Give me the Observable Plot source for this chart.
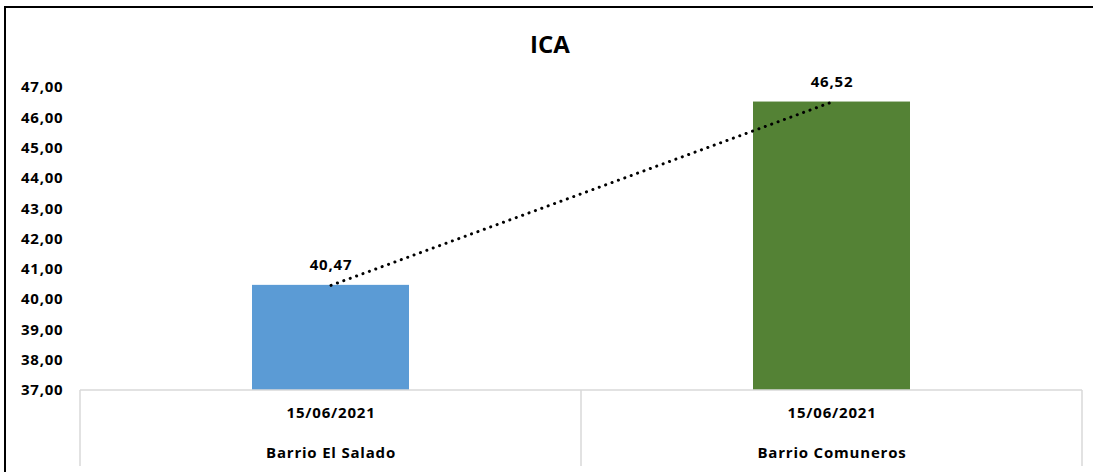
<!DOCTYPE html>
<html>
<head>
<meta charset="utf-8">
<script src="https://cdn.jsdelivr.net/npm/d3@7"></script>
<script src="https://cdn.jsdelivr.net/npm/@observablehq/plot@0.6"></script>
<style>
  html, body { margin: 0; padding: 0; background: #fff; }
  #wrap { position: relative; width: 1093px; height: 472px; overflow: hidden; font-family: "Open Sans", sans-serif; }
  #borderL { position: absolute; left: 4px; top: 6px; width: 2px; height: 480px; background: #000; }
  #borderT { position: absolute; left: 4px; top: 6px; width: 1100px; height: 2px; background: #000; }
  #title { position: absolute; left: 0; width: 1100px; top: 27px; text-align: center; font-weight: 700; font-size: 24px; color: #000; line-height: 34px; }
  #chart { position: absolute; left: 0; top: 0; }
  #chart svg text { letter-spacing: 0.8px; }
</style>
</head>
<body>
<div id="wrap">
  <div id="chart"></div>
  <div id="borderL"></div>
  <div id="borderT"></div>
  <div id="title">ICA</div>
</div>
<script>
const categories = ["Barrio El Salado", "Barrio Comuneros"];
const dates = ["15/06/2021", "15/06/2021"];
const values = [40.47, 46.52];
const colors = ["#5B9BD5", "#548235"];
const yTicks = [37, 38, 39, 40, 41, 42, 43, 44, 45, 46, 47];

const data = categories.map((c, i) => ({category: c, date: dates[i], value: values[i], color: colors[i]}));
const fmt = v => v.toFixed(2).replace(".", ",");

const chart = Plot.plot({
  width: 1093,
  height: 472,
  marginLeft: 80,
  marginRight: 11,
  marginTop: 87,
  marginBottom: 82,
  style: {fontFamily: "'Open Sans', sans-serif", fontWeight: 700, fontSize: "15px", color: "#000"},
  x: {domain: categories, padding: 0, axis: null},
  y: {domain: [37, 47], ticks: yTicks, tickFormat: fmt, label: null},
  marks: [
    Plot.axisY({ticks: yTicks, tickFormat: fmt, tickSize: 0, tickPadding: 17, fontSize: 15, fontWeight: 700, fill: "#000", label: null}),
    Plot.barY(data, {x: "category", y1: 37, y2: "value", fill: "color", insetLeft: 172, insetRight: 172}),
    Plot.line(data, {x: "category", y: "value", stroke: "#000", strokeWidth: 3, strokeLinecap: "round", strokeDasharray: "0.1,6.7"}),
    Plot.text(data, {x: "category", y: "value", text: d => fmt(d.value), dy: -20, fontSize: 15, fontWeight: 700, fill: "#000"}),
    Plot.text(data, {x: "category", y: 37, text: "date", dy: 23, fontSize: 15, fontWeight: 700, fill: "#000"}),
    Plot.text(data, {x: "category", y: 37, text: "category", dy: 63, fontSize: 15, fontWeight: 700, fill: "#000"})
  ]
});

// category table grid from the x band scale
const xs = chart.scale("x");
const ys = chart.scale("y");
const y0 = ys.apply(37);
const svg = d3.select(chart);
const g = svg.append("g").attr("stroke", "#d9d9d9").attr("stroke-width", 1.5).attr("fill", "none");
const left = xs.apply(categories[0]);
const right = xs.apply(categories[categories.length - 1]) + xs.bandwidth;
g.append("line").attr("x1", left).attr("x2", right).attr("y1", y0).attr("y2", y0);
const bounds = categories.map(c => xs.apply(c)).concat([right]);
bounds.forEach(x => g.append("line").attr("x1", x).attr("x2", x).attr("y1", y0).attr("y2", 466));

document.getElementById("chart").appendChild(chart);
</script>
</body>
</html>
